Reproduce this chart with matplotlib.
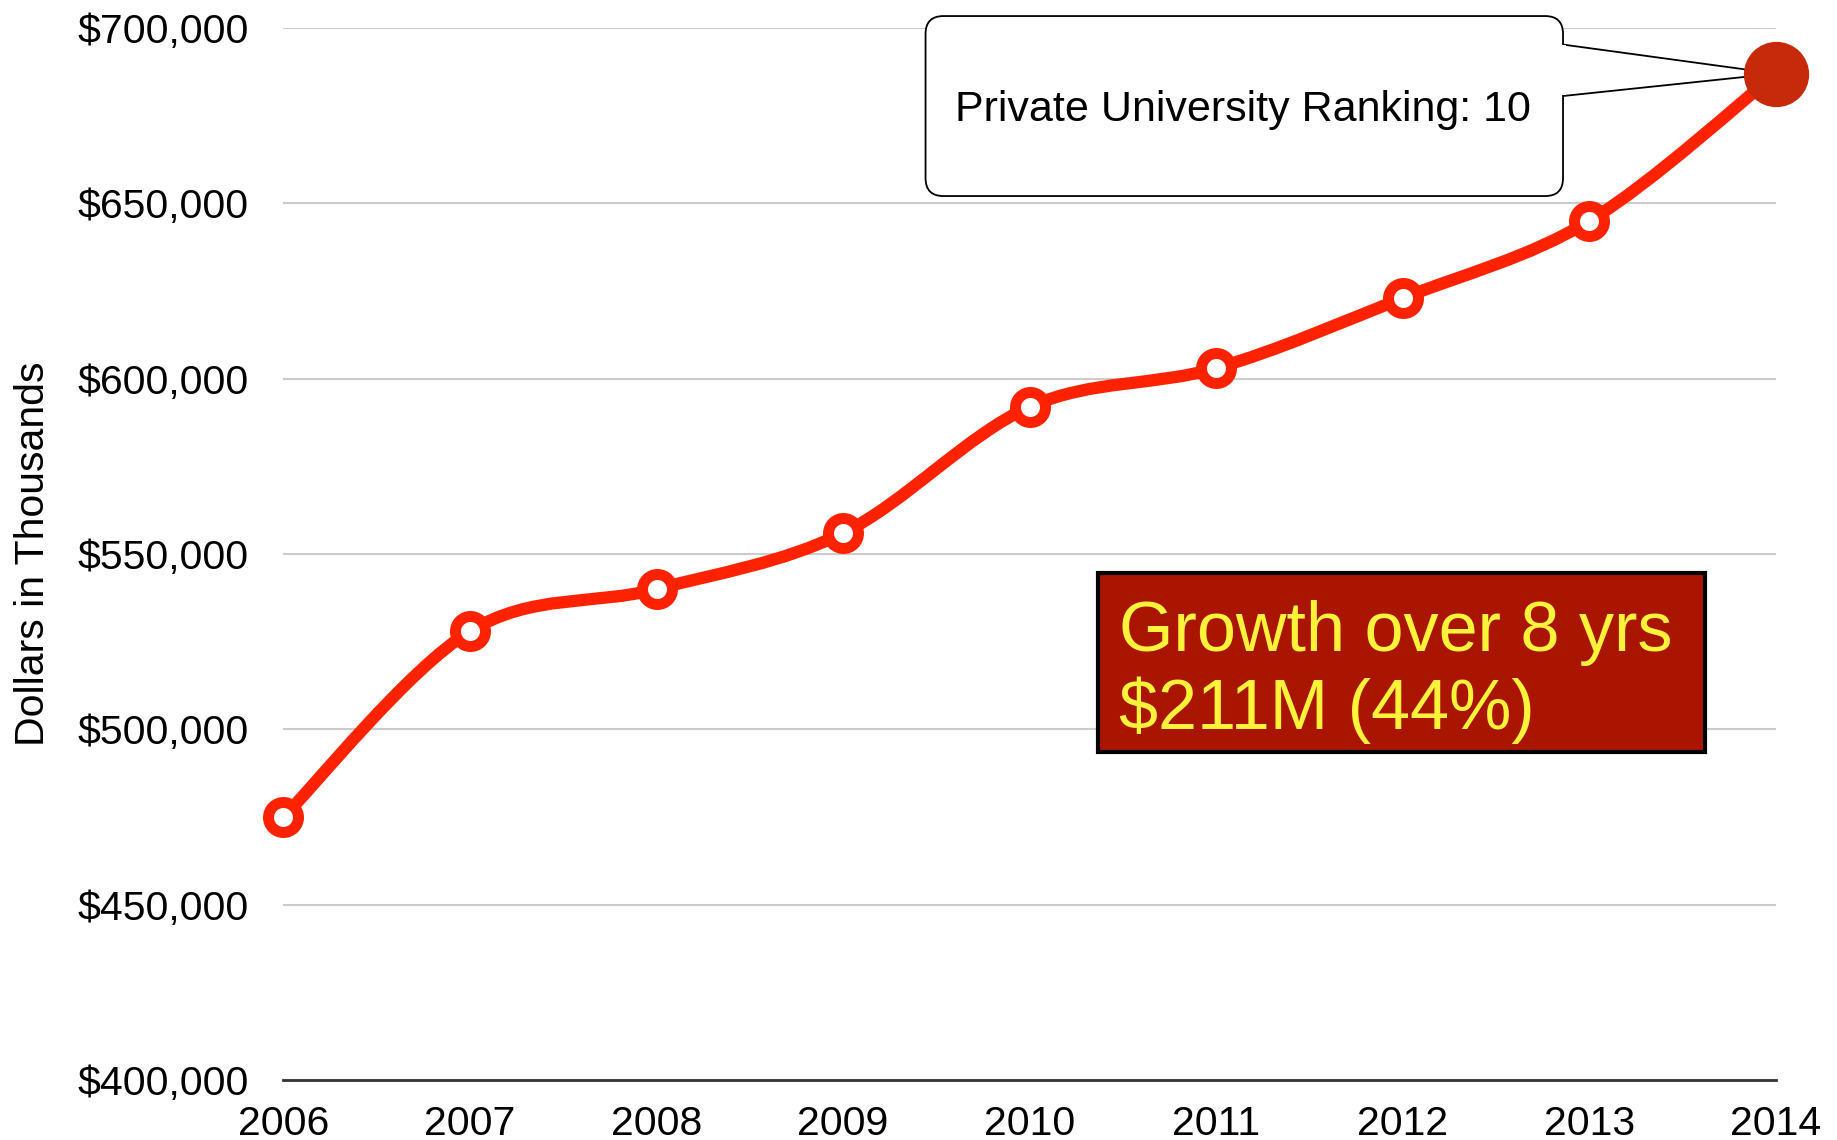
import matplotlib
matplotlib.use("Agg")
import matplotlib.pyplot as plt
from matplotlib.path import Path
from matplotlib.patches import PathPatch, FancyBboxPatch, Polygon, Rectangle
from matplotlib.ticker import FuncFormatter

years = [2006, 2007, 2008, 2009, 2010, 2011, 2012, 2013, 2014]
values = [475000, 528000, 540000, 556000, 592000, 603000, 623000, 645000, 687000]
y_ticks = [400000, 450000, 500000, 550000, 600000, 650000, 700000]
y_label = "Dollars in Thousands"
callout_text = "Private University Ranking: 10"
growth_text = "Growth over 8 yrs\n$211M (44%)"

plt.rcParams['font.family'] = ['Liberation Sans', 'DejaVu Sans']

fig = plt.figure(figsize=(18.37, 11.40), dpi=100)
ax = fig.add_axes([0.1543, 0.0526, 0.9668 - 0.1543, 0.9754 - 0.0526])
ax.set_xlim(years[0], years[-1])
ax.set_ylim(y_ticks[0], y_ticks[-1])

for s in ['left', 'right', 'top']:
    ax.spines[s].set_visible(False)
ax.spines['bottom'].set_color('#333333')
ax.spines['bottom'].set_linewidth(2)
ax.spines['bottom'].set_zorder(3)
ax.set_yticks(y_ticks)
ax.set_xticks(years)
ax.yaxis.set_major_formatter(FuncFormatter(lambda v, p: "${:,.0f}".format(v)))
ax.tick_params(axis='both', length=0, labelsize=29.5, colors='#000000')
ax.tick_params(axis='y', pad=25)
ax.tick_params(axis='x', pad=18)
ax.grid(axis='y', color='#cccccc', linewidth=1.5, zorder=0)
ax.set_axisbelow(True)
ax.set_ylabel(y_label, fontsize=29.5, labelpad=18)

# smooth curve (Catmull-Rom -> cubic Bezier)
pts = list(zip(years, values))
n = len(pts)
verts = [pts[0]]
codes = [Path.MOVETO]
for i in range(n - 1):
    p0 = pts[i - 1] if i > 0 else pts[i]
    p1 = pts[i]
    p2 = pts[i + 1]
    p3 = pts[i + 2] if i + 2 < n else pts[i + 1]
    c1 = (p1[0] + (p2[0] - p0[0]) / 6.0, p1[1] + (p2[1] - p0[1]) / 6.0)
    c2 = (p2[0] - (p3[0] - p1[0]) / 6.0, p2[1] - (p3[1] - p1[1]) / 6.0)
    verts += [c1, c2, p2]
    codes += [Path.CURVE4] * 3
line_color = '#ff2200'
ax.add_patch(PathPatch(Path(verts, codes), facecolor='none', edgecolor=line_color,
                       linewidth=8.8, capstyle='round', joinstyle='round', zorder=4,
                       clip_on=False))
ax.plot(years[:-1], values[:-1], linestyle='none', marker='o', markersize=21.6,
        markerfacecolor='white', markeredgecolor=line_color, markeredgewidth=7.9,
        zorder=5, clip_on=False)

# callout
tip = ax.transAxes.inverted().transform(ax.transData.transform((years[-1], values[-1])))
ptr = Polygon([(0.8573, 0.9843), (tip[0], tip[1]), (0.8573, 0.9354)], closed=False,
              facecolor='white', edgecolor='black', linewidth=1.3,
              transform=ax.transAxes, zorder=6, clip_on=False)
ax.add_patch(ptr)
box = FancyBboxPatch((0.4302, 0.8403), 0.8573 - 0.4302, 1.0114 - 0.8403,
                     boxstyle="round,pad=0,rounding_size=0.012",
                     facecolor='white', edgecolor='black', linewidth=1.3,
                     transform=ax.transAxes, zorder=7, clip_on=False,
                     mutation_aspect=1492.5 / 1052)
ax.add_patch(box)
# cover the pointer base
ax.add_patch(Rectangle((0.8560, 0.9360), 0.003, 0.9836 - 0.9360, facecolor='white',
                       edgecolor='none', transform=ax.transAxes, zorder=7.5, clip_on=False))
ax.text(0.45, 0.922, callout_text, transform=ax.transAxes, fontsize=31,
        ha='left', va='center', zorder=8)

ax.plot([years[-1]], [values[-1]], marker='o', markersize=46, color='#c62a0a',
        linestyle='none', zorder=9, clip_on=False)

# growth box
ax.add_patch(Rectangle((0.5457, 0.3118), 0.9524 - 0.5457, 0.4819 - 0.3118,
                       facecolor='#aa1500', edgecolor='black', linewidth=3,
                       transform=ax.transAxes, zorder=6))
ax.text(0.5598, 0.388, growth_text, transform=ax.transAxes, fontsize=50.5,
        color='#fff23a', ha='left', va='center', linespacing=1.2, zorder=7)

fig.savefig('out.png', dpi=100, facecolor='white')
